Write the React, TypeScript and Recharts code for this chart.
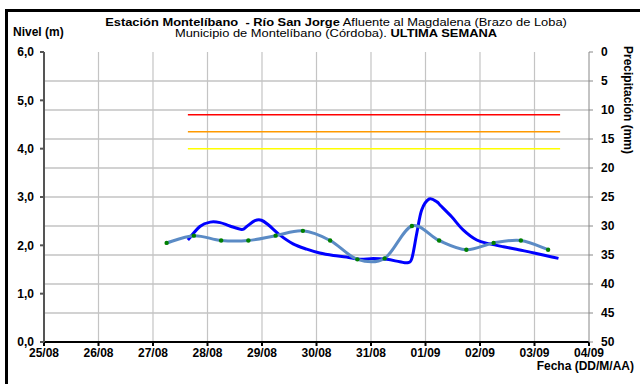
import { LineChart, Line, XAxis, YAxis, CartesianGrid } from 'recharts'

// day offsets from 25/08 on the x axis
const DAY_TICKS = [0, 1, 2, 3, 4, 5, 6, 7, 8, 9, 10]
const DAY_LABELS = ['25/08', '26/08', '27/08', '28/08', '29/08', '30/08', '31/08', '01/09', '02/09', '03/09', '04/09']

const LEVEL_TICKS = [0, 1, 2, 3, 4, 5, 6]
const RAIN_TICKS = [0, 5, 10, 15, 20, 25, 30, 35, 40, 45, 50]

// nivel (hourly, dark blue)
const LEVEL_DAYS = [
  2.64, 2.86, 3.05, 3.23, 3.41, 3.63, 3.72, 3.87, 3.99, 4.12, 4.33, 4.57, 4.82, 5.06, 5.31, 5.55,
  5.8, 6.04, 6.29, 6.53, 6.67, 6.75, 6.84, 6.93, 7.07, 7.21, 7.27, 7.48, 7.69, 7.94, 8.18, 8.43,
  8.67, 8.92, 9.16, 9.32, 9.44,
]
const LEVEL_VALUES = [
  2.11, 2.39, 2.48, 2.47, 2.4, 2.33, 2.39, 2.51, 2.52, 2.42, 2.21, 2.03, 1.92, 1.84, 1.79, 1.76,
  1.71, 1.73, 1.71, 1.66, 1.64, 1.73, 2.25, 2.73, 2.96, 2.9, 2.83, 2.59, 2.32, 2.11, 2.03, 1.97,
  1.92, 1.86, 1.8, 1.76, 1.73,
]

// lecturas 6:00 / 18:00 (steel blue with green dots)
const READ_DAYS = [2.25, 2.75, 3.25, 3.75, 4.25, 4.75, 5.25, 5.75, 6.25, 6.75, 7.25, 7.75, 8.25, 8.75, 9.25]
const READ_VALUES = [2.05, 2.2, 2.1, 2.1, 2.2, 2.3, 2.1, 1.71, 1.73, 2.4, 2.1, 1.91, 2.05, 2.1, 1.91]

// precipitación (mm): nothing registered this week
const RAIN_VALUES = [0, 0, 0, 0, 0, 0, 0, 0, 0, 0, 0, 0, 0, 0, 0]

// alert levels
const ALERT_DAYS = [2.64, 9.47]
const RED_LEVEL = 4.7
const ORANGE_LEVEL = 4.35
const YELLOW_LEVEL = 4.0

const levelData = LEVEL_DAYS.map((d, i) => ({ d, v: LEVEL_VALUES[i] }))
const readData = READ_DAYS.map((d, i) => ({ d, v: READ_VALUES[i] }))
const rainData = READ_DAYS.map((d, i) => ({ d, v: RAIN_VALUES[i] }))
const alertData = (v: number) => ALERT_DAYS.map(d => ({ d, v }))

const FONT = '"Liberation Sans", Arial, sans-serif'
const tickStyle = { fontSize: 12, fontWeight: 700, fill: '#000', fontFamily: FONT }

// excel-like smoothing (catmull-rom)
function smooth(context: any) {
  let pts: number[][] = []
  return {
    areaStart() {},
    areaEnd() {},
    lineStart() {
      pts = []
    },
    point(x: number, y: number) {
      pts.push([+x, +y])
    },
    lineEnd() {
      if (!pts.length) return
      context.moveTo(pts[0][0], pts[0][1])
      for (let i = 0; i < pts.length - 1; i++) {
        const p0 = pts[i - 1] || pts[i]
        const p1 = pts[i]
        const p2 = pts[i + 1]
        const p3 = pts[i + 2] || p2
        context.bezierCurveTo(
          p1[0] + (p2[0] - p0[0]) / 6,
          p1[1] + (p2[1] - p0[1]) / 6,
          p2[0] - (p3[0] - p1[0]) / 6,
          p2[1] - (p3[1] - p1[1]) / 6,
          p2[0],
          p2[1]
        )
      }
    },
  }
}

const GreenDot = (props: any) => {
  const { cx, cy } = props
  return <circle cx={cx} cy={cy} r={2.2} fill="#008000" />
}

const titleStyle = {
  position: 'absolute' as const,
  left: 0,
  width: 672,
  textAlign: 'center' as const,
  fontSize: 11.5,
  lineHeight: '11px',
  transform: 'scaleX(1.12)',
  transformOrigin: '336px 0',
  whiteSpace: 'nowrap' as const,
}

export default function App() {
  return (
    <div style={{ position: 'absolute', left: 0, top: 0, width: 640, height: 384, overflow: 'hidden', background: '#fff', fontFamily: FONT }}>
      <div style={{ position: 'absolute', left: 5, top: 9, width: 700, height: 400, border: '3px solid #000' }} />
      <div style={{ ...titleStyle, top: 17 }}>
        <b>Estación Montelíbano&nbsp; - Río San Jorge</b> Afluente al Magdalena (Brazo de Loba)
      </div>
      <div style={{ ...titleStyle, top: 28 }}>
        Municipio de Montelíbano (Córdoba). <b>ULTIMA SEMANA</b>
      </div>
      <div style={{ position: 'absolute', left: 13, top: 25, fontSize: 12, fontWeight: 700, lineHeight: '14px' }}>Nivel (m)</div>
      <div style={{ position: 'absolute', left: 434, top: 359, width: 200, textAlign: 'right', fontSize: 12, fontWeight: 700, lineHeight: '14px' }}>
        Fecha (DD/M/AA)
      </div>
      <div style={{ position: 'absolute', left: 621, top: 46, writingMode: 'vertical-rl', fontSize: 12, fontWeight: 700, lineHeight: '14px' }}>
        Precipitación (mm)
      </div>
      <div style={{ position: 'absolute', left: 0, top: 0 }}>
        <LineChart width={640} height={384} margin={{ top: 52, right: 0, bottom: 20, left: 0 }}>
          <CartesianGrid
            yAxisId="rain"
            stroke="#d2d2d2"
            strokeWidth={2}
            vertical={false}
            horizontalValues={[5, 10, 15, 20, 25, 30, 35, 40, 45]}
          />
          <CartesianGrid
            yAxisId="rain"
            stroke="#c4c4c4"
            strokeWidth={1.2}
            horizontal={false}
            verticalValues={[1, 2, 3, 4, 5, 6, 7, 8, 9]}
          />
          <XAxis
            type="number"
            dataKey="d"
            domain={[0, 10]}
            ticks={DAY_TICKS}
            tickFormatter={(v: number) => DAY_LABELS[v]}
            tick={tickStyle}
            stroke="#000"
            strokeWidth={2}
            tickSize={4}
            tickMargin={2}
            height={22}
            interval={0}
            allowDataOverflow
          />
          <YAxis
            yAxisId="level"
            domain={[0, 6]}
            ticks={LEVEL_TICKS}
            tickFormatter={(v: number) => v.toFixed(1).replace('.', ',')}
            tick={tickStyle}
            stroke="#555"
            strokeWidth={2}
            tickSize={4}
            tickMargin={6}
            width={44}
            interval={0}
          />
          <YAxis
            yAxisId="rain"
            orientation="right"
            reversed
            domain={[0, 50]}
            ticks={RAIN_TICKS}
            tick={tickStyle}
            stroke="#888"
            tickSize={4}
            tickMargin={8}
            width={51}
            interval={0}
          />
          <Line yAxisId="rain" data={rainData} dataKey="v" stroke="none" dot={false} isAnimationActive={false} />
          <Line yAxisId="level" data={alertData(RED_LEVEL)} dataKey="v" stroke="#ff0000" strokeWidth={1.5} dot={false} isAnimationActive={false} />
          <Line yAxisId="level" data={alertData(ORANGE_LEVEL)} dataKey="v" stroke="#ff9900" strokeWidth={1.5} dot={false} isAnimationActive={false} />
          <Line yAxisId="level" data={alertData(YELLOW_LEVEL)} dataKey="v" stroke="#ffff00" strokeWidth={1.5} dot={false} isAnimationActive={false} />
          <Line yAxisId="level" data={levelData} dataKey="v" type={smooth as any} stroke="#0000ff" strokeWidth={3} dot={false} isAnimationActive={false} />
          <Line yAxisId="level" data={readData} dataKey="v" type={smooth as any} stroke="#5b8bc5" strokeWidth={3} dot={<GreenDot />} isAnimationActive={false} />
        </LineChart>
      </div>
    </div>
  )
}
